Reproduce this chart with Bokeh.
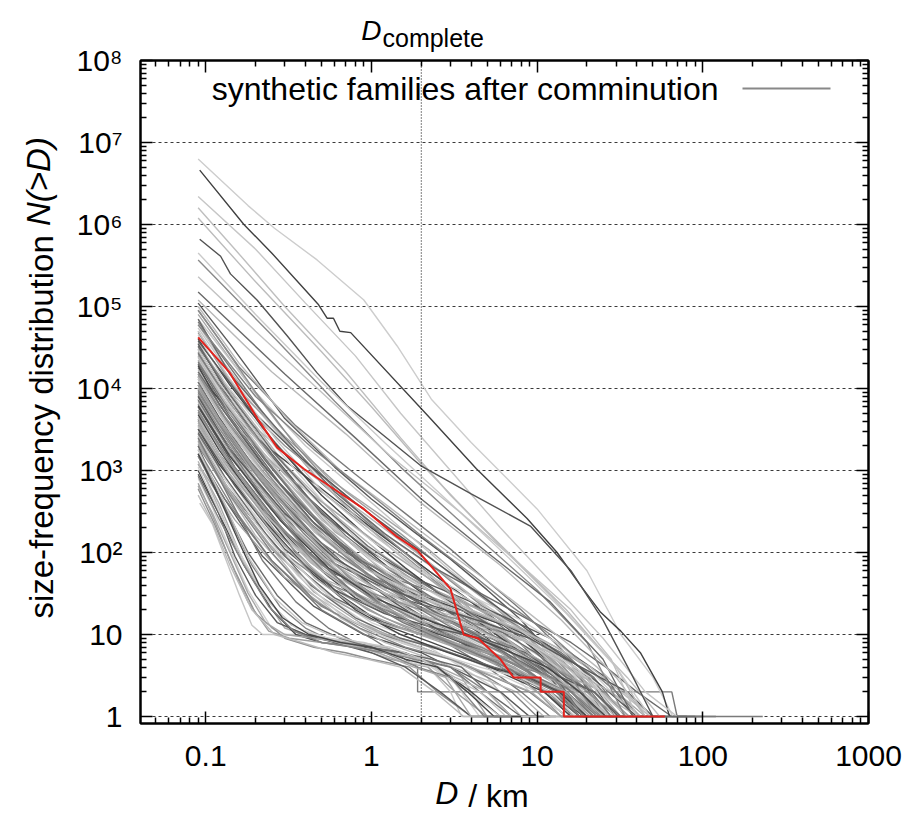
from bokeh.plotting import figure
from bokeh.models import Range1d, LogAxis, FixedTicker, Span, Label, Arrow
from bokeh.embed import file_html
from bokeh.resources import INLINE

FONT = "Liberation Sans"

# ---------------- data ----------------
D_complete = 2.0

x_ticks = [0.1, 1, 10, 100, 1000]
x_tick_labels = ["0.1", "1", "10", "100", "1000"]
y_ticks = [1, 10, 100, 1e3, 1e4, 1e5, 1e6, 1e7, 1e8]
y_tick_labels = ["1", "10", "10²", "10³", "10⁴", "10⁵", "10⁶", "10⁷", "10⁸"]

# highlighted family (red)
red_D = [0.09, 0.14, 0.205, 0.27, 0.39, 0.57, 0.90, 1.43, 1.89, 3.0, 3.6, 4.4, 6.0, 7.2, 10.5, 10.5, 14.5, 14.5, 59]
red_N = [42000, 15500, 4300, 1900, 1050, 630, 340, 155, 107, 36, 10, 9, 5, 3, 3, 2, 2, 1, 1]

# upper outlier families
outlier_D = [
    [0.09, 0.18, 0.26, 0.47, 0.9, 1.43, 2.3, 4, 10, 20, 32, 50, 66],
    [0.092, 0.17, 0.25, 0.48, 0.54, 0.59, 0.645, 0.75, 2.27, 4.3, 8.7, 13.2, 18.2, 24, 32, 42, 57, 63],
    [0.09, 0.2, 0.4, 0.8, 1.5, 3, 6, 12, 25, 45, 70],
    [0.09, 0.15, 0.3, 0.7, 1.5, 3, 6, 12, 22, 35, 55],
    [0.09, 0.2, 0.5, 1, 2, 4, 8, 15, 30, 45],
    [0.092, 0.123, 0.141, 0.204, 0.31, 0.47, 0.71, 1.98, 4, 9.1, 16, 25, 38, 50],
    [0.09, 0.2, 0.5, 1.2, 3, 7, 15, 30, 48],
    [0.09, 0.25, 0.6, 1.5, 4, 10, 20, 34],
    [0.09, 0.2, 0.5, 1.3, 3.5, 8, 16, 28, 40],
    [0.09, 0.3, 0.8, 2, 5, 12, 25, 38, 90],
    [0.09, 0.25, 0.7, 2, 6, 14, 30, 45],
]
outlier_N = [
    [6.3e6, 1.7e6, 9e5, 3.7e5, 1.2e5, 3.3e4, 7400, 2200, 340, 60, 10, 3, 1],
    [4.6e6, 1e6, 4.5e5, 1.05e5, 7.2e4, 7.2e4, 5e4, 4.8e4, 4300, 1050, 260, 100, 40, 19, 11, 6, 2, 1],
    [2.2e6, 5e5, 1.1e5, 2.5e4, 5000, 1000, 200, 45, 9, 2, 1],
    [1.6e6, 5e5, 1e5, 1.6e4, 2500, 500, 120, 30, 8, 3, 1],
    [1.2e6, 2e5, 2.8e4, 6000, 1200, 280, 70, 20, 4, 1],
    [6.6e5, 4.1e5, 2.5e5, 1.2e5, 4.4e4, 1.55e4, 6200, 1150, 520, 210, 60, 15, 3, 1],
    [4.5e5, 8e4, 1.2e4, 2200, 400, 80, 18, 4, 1],
    [3.7e5, 4.5e4, 7000, 1100, 180, 35, 8, 1],
    [2.3e5, 5e4, 9000, 1500, 300, 70, 20, 5, 1],
    [1.5e5, 1.5e4, 2500, 450, 100, 25, 5, 1, 1],
    [1.2e5, 1.6e4, 2800, 400, 70, 15, 3, 1],
]
outlier_colors = ["#cdcdcd", "#404040", "#c6c6c6", "#bfbfbf", "#bcbcbc", "#525252",
                  "#cacaca", "#8a8a8a", "#c2c2c2", "#6a6a6a", "#b8b8b8"]

# main bundle of families
bulk_D = [
    [0.09, 0.14, 0.3, 0.6, 1.0, 1.8, 3.0, 5.0, 8.0, 12, 18, 26, 100],
    [0.09, 0.15, 0.28, 0.55, 1.1, 2.2, 3.5, 6, 9, 14, 20, 30],
    [0.09, 0.12, 0.25, 0.5, 1.0, 2.0, 4.0, 7, 11, 16, 22, 28],
    [0.09, 0.16, 0.33, 0.7, 1.3, 2.5, 4, 7, 10, 15, 24, 35],
    [0.09, 0.13, 0.22, 0.45, 0.9, 1.6, 2.8, 4.5, 7, 11, 17, 21],
    [0.09, 0.14, 0.3, 0.65, 1.2, 2.2, 3.5, 5.5, 9, 13, 20, 28],
    [0.09, 0.12, 0.2, 0.4, 0.8, 1.5, 3, 5, 8, 13, 19, 26],
    [0.09, 0.15, 0.3, 0.6, 1.1, 2, 3.5, 6, 10, 16, 25, 38],
    [0.09, 0.13, 0.25, 0.5, 1, 2, 4, 6, 9, 14, 18],
    [0.09, 0.14, 0.28, 0.55, 1.0, 1.9, 3.2, 5, 8, 12, 18, 30],
    [0.09, 0.12, 0.22, 0.45, 0.9, 1.7, 3, 5.5, 9, 15, 22, 27],
    [0.09, 0.15, 0.32, 0.7, 1.4, 2.8, 5, 8, 12, 18, 26, 34],
    [0.09, 0.13, 0.24, 0.5, 1, 2, 3.5, 6, 10, 15, 19],
    [0.09, 0.14, 0.3, 0.6, 1.2, 2.4, 4, 7, 11, 17, 25, 40],
    [0.09, 0.12, 0.2, 0.35, 0.7, 1.4, 2.8, 5, 8, 12, 16],
    [0.09, 0.15, 0.3, 0.6, 1.1, 2, 3.5, 6, 9, 14, 20, 24],
    [0.09, 0.13, 0.25, 0.5, 1, 1.8, 3, 5, 8, 12, 18, 23],
    [0.09, 0.14, 0.28, 0.55, 1.1, 2.2, 4, 6.5, 10, 15, 19],
    [0.09, 0.12, 0.22, 0.42, 0.8, 1.6, 3, 5, 8, 13, 20, 32],
    [0.09, 0.15, 0.3, 0.6, 1.2, 2.5, 4.5, 7, 11, 16, 21],
    [0.09, 0.13, 0.26, 0.5, 1, 2, 3.5, 6, 9, 12],
    [0.09, 0.14, 0.3, 0.6, 1.2, 2.4, 4, 7, 12, 18, 25, 31],
    [0.09, 0.12, 0.2, 0.4, 0.8, 1.5, 3, 5, 8, 11],
    [0.09, 0.14, 0.25, 0.5, 1, 2, 4, 7, 10, 13],
    [0.09, 0.13, 0.22, 0.45, 0.9, 2, 4, 6, 9, 12],
    [0.09, 0.15, 0.3, 0.6, 1.2, 2.5, 5, 8, 12, 20, 26],
    [0.09, 0.16, 0.35, 0.8, 1.6, 3, 5, 8, 12, 18, 25, 35],
    [0.09, 0.2, 0.4, 0.8, 1.5, 3, 6, 10, 15, 22, 30, 40],
    [0.09, 0.15, 0.3, 0.7, 1.5, 3, 6, 10, 16, 25, 33],
    [0.09, 0.18, 0.4, 0.9, 2, 4, 7, 12, 18, 28, 45],
    [0.09, 0.2, 0.5, 1, 2, 4, 8, 13, 20, 30, 38],
    [0.09, 0.14, 0.3, 0.7, 1.5, 3, 5.5, 9, 14, 22, 28],
    [0.09, 0.13, 0.25, 0.5, 1, 2, 4, 8, 14, 20, 30, 36],
    [0.09, 0.12, 0.25, 0.55, 1.1, 2.3, 4.5, 9, 15, 24, 36, 44],
    [0.09, 0.14, 0.3, 0.6, 1.2, 2.5, 5, 9, 13, 20, 28, 33],
    [0.09, 0.13, 0.26, 0.5, 1, 2, 4, 7, 12, 18, 26, 31],
    [0.09, 0.15, 0.3, 0.6, 1.3, 2.6, 5, 10, 16, 24, 29],
    [0.09, 0.12, 0.22, 0.45, 0.9, 1.8, 3.5, 7, 12, 20, 32, 39],
    [0.09, 0.16, 0.33, 0.7, 1.5, 3, 6, 11, 18, 28, 34],
    [0.09, 0.13, 0.25, 0.5, 1.0, 2.0, 4.0, 7, 11, 17, 26, 45],
    [0.09, 0.12, 0.2, 0.35, 0.6, 1, 1.8, 3, 5, 8, 12, 16, 25],
    [0.09, 0.13, 0.24, 0.45, 0.8, 1.4, 2.5, 4.5, 7, 11, 17, 24, 33],
    [0.09, 0.14, 0.26, 0.5, 0.9, 1.6, 3, 5, 8, 13, 19, 30],
    [0.09, 0.12, 0.22, 0.4, 0.75, 1.3, 2.3, 4, 6.5, 10, 15, 22, 45],
    [0.09, 0.15, 0.3, 0.55, 1, 1.8, 3.2, 5.5, 9, 14, 20, 28],
    [0.09, 0.13, 0.23, 0.42, 0.8, 1.5, 2.7, 4.5, 7.5, 12, 18, 27],
    [0.09, 0.12, 0.2, 0.38, 0.7, 1.3, 2.5, 4.5, 8, 13, 20, 25],
    [0.09, 0.14, 0.27, 0.5, 0.95, 1.8, 3.5, 6, 10, 16, 24, 36],
    [0.09, 0.12, 0.21, 0.4, 0.75, 1.4, 2.6, 4.5, 7.5, 12, 18, 22],
    [0.09, 0.13, 0.25, 0.48, 0.9, 1.7, 3.2, 6, 10, 15, 22, 32],
    [0.09, 0.12, 0.2, 0.36, 0.65, 1.2, 2.2, 4, 7, 11, 17, 24],
    [0.09, 0.14, 0.28, 0.55, 1, 2, 3.8, 6.5, 10, 16, 23, 29],
    [0.09, 0.12, 0.21, 0.4, 0.75, 1.4, 2.6, 4.8, 8, 13, 20, 30],
    [0.09, 0.13, 0.24, 0.46, 0.9, 1.7, 3.2, 5.5, 9, 14, 21, 26],
    [0.09, 0.12, 0.2, 0.35, 0.65, 1.2, 2.3, 4.2, 7, 11, 16, 24],
    [0.09, 0.14, 0.26, 0.5, 0.95, 1.8, 3.4, 6, 9.5, 15, 22, 28],
    [0.09, 0.12, 0.19, 0.33, 0.6, 1.1, 2, 3.8, 6.5, 10, 15, 19],
    [0.09, 0.13, 0.23, 0.43, 0.8, 1.5, 3, 5.5, 9, 14, 20, 26],
    [0.09, 0.12, 0.2, 0.36, 0.65, 1.2, 2.3, 4.5, 7.5, 11, 14],
    [0.09, 0.14, 0.25, 0.45, 0.85, 1.6, 3, 5.5, 9, 14, 17],
    [0.09, 0.13, 0.25, 0.5, 1, 2, 4, 7, 12, 18, 26, 38, 60],
    [0.09, 0.14, 0.3, 0.6, 1.2, 2.4, 4.5, 8, 13, 20, 30, 45, 52],
    [0.09, 0.12, 0.24, 0.5, 1, 2, 4, 8, 14, 22, 34, 50],
    [0.09, 0.15, 0.3, 0.6, 1.2, 2.5, 5, 9, 15, 24, 35, 55],
    [0.09, 0.13, 0.25, 0.5, 1, 2, 4, 8, 13, 20, 30, 37],
    [0.09, 0.14, 0.28, 0.55, 1.1, 2.2, 4.5, 9, 15, 24, 40, 48],
    [0.09, 0.12, 0.22, 0.45, 0.9, 1.8, 3.5, 7, 12, 20, 30, 50],
    [0.09, 0.15, 0.32, 0.65, 1.3, 2.6, 5, 9, 15, 22, 32, 40],
    [0.09, 0.13, 0.26, 0.52, 1.05, 2.1, 4.2, 8, 13, 20, 28, 42, 48],
    [0.09, 0.14, 0.3, 0.6, 1.2, 2.4, 4.8, 9, 16, 26, 40, 65, 120],
    [0.09, 0.16, 0.32, 0.65, 1.3, 2.6, 5, 9, 15, 23, 33, 50, 60],
    [0.09, 0.2, 0.45, 1, 2, 4, 7, 12, 20, 30, 42, 50],
    [0.09, 0.18, 0.38, 0.8, 1.7, 3.5, 6.5, 11, 18, 27, 40, 46],
    [0.09, 0.15, 0.3, 0.65, 1.4, 3, 6, 10, 16, 25, 36, 42],
    [0.09, 0.13, 0.25, 0.5, 1, 1.9, 1.9, 30, 65, 70, 230],
]
bulk_N = [
    [1.1e5, 3.5e4, 4300, 1100, 450, 180, 83, 35, 15, 6, 3, 1, 1],
    [8e4, 1.9e4, 3500, 800, 300, 110, 50, 20, 9, 4, 2, 1],
    [6.5e4, 2.8e4, 3600, 700, 210, 70, 25, 10, 4, 2, 1, 1],
    [5.5e4, 1e4, 1800, 420, 150, 60, 30, 14, 7, 3, 1, 1],
    [4.8e4, 1.6e4, 3300, 650, 220, 90, 35, 14, 6, 2, 1, 1],
    [3.6e4, 9000, 1200, 250, 90, 40, 22, 11, 5, 3, 1, 1],
    [3e4, 1.2e4, 2500, 500, 140, 50, 18, 9, 4, 2, 1, 1],
    [2.6e4, 5000, 900, 220, 90, 40, 20, 10, 5, 2, 1, 1],
    [2.2e4, 6500, 1100, 220, 70, 25, 10, 5, 2, 1, 1],
    [1.8e4, 4500, 700, 170, 70, 32, 17, 10, 5, 3, 1, 1],
    [1.5e4, 5500, 1000, 180, 60, 25, 13, 7, 4, 2, 1, 1],
    [1.3e4, 2500, 400, 110, 45, 22, 12, 6, 3, 2, 1, 1],
    [1.1e4, 3200, 600, 120, 40, 17, 9, 5, 2, 1, 1],
    [9500, 2200, 320, 80, 35, 18, 11, 6, 3, 2, 1, 1],
    [8000, 3000, 700, 170, 45, 18, 8, 4, 2, 1, 1],
    [7000, 1500, 260, 70, 30, 15, 9, 5, 3, 2, 1, 1],
    [6000, 1800, 330, 80, 30, 16, 10, 6, 3, 2, 1, 1],
    [5000, 1200, 200, 50, 20, 11, 6, 4, 2, 1, 1],
    [4200, 1600, 350, 80, 28, 14, 9, 6, 4, 2, 1, 1],
    [3600, 700, 120, 35, 16, 9, 6, 4, 2, 1, 1],
    [3000, 800, 140, 35, 14, 8, 4, 2, 1, 1],
    [2600, 550, 90, 28, 14, 9, 7, 5, 3, 2, 1, 1],
    [2200, 800, 160, 35, 14, 8, 5, 3, 1, 1],
    [1800, 400, 80, 22, 11, 7, 4, 2, 1, 1],
    [1500, 450, 90, 22, 10, 6, 3, 2, 1, 1],
    [1200, 250, 50, 18, 10, 7, 4, 3, 2, 1, 1],
    [9e4, 1.8e4, 3500, 900, 300, 110, 45, 20, 9, 4, 2, 1],
    [7e4, 9000, 2000, 600, 200, 60, 20, 8, 4, 2, 1, 1],
    [3.2e4, 8000, 2000, 500, 150, 45, 15, 6, 2, 1, 1],
    [2e4, 4000, 1000, 300, 90, 30, 12, 5, 2, 1, 1],
    [1.4e4, 2500, 600, 200, 70, 25, 9, 4, 2, 1, 1],
    [5e4, 1.2e4, 2600, 550, 170, 55, 22, 9, 3, 1, 1],
    [1.6e4, 4000, 600, 120, 50, 30, 20, 11, 5, 2, 1, 1],
    [7500, 2500, 350, 80, 40, 25, 17, 10, 5, 2, 1, 1],
    [4500, 900, 150, 50, 28, 19, 13, 8, 4, 2, 1, 1],
    [2800, 700, 120, 45, 25, 17, 12, 8, 4, 2, 1, 1],
    [6000, 1100, 180, 55, 30, 20, 14, 7, 3, 1, 1],
    [2.5e4, 9000, 1500, 280, 80, 40, 25, 14, 7, 3, 1, 1],
    [1e4, 1800, 350, 100, 45, 28, 17, 8, 3, 1, 1],
    [4000, 1000, 200, 60, 30, 20, 14, 9, 5, 3, 1, 1],
    [9e4, 4e4, 9000, 2000, 600, 220, 80, 33, 14, 6, 3, 1, 1],
    [6e4, 2e4, 4000, 900, 280, 100, 40, 17, 8, 4, 2, 1, 1],
    [4e4, 1.1e4, 2200, 500, 170, 65, 25, 12, 6, 3, 1, 1],
    [2.8e4, 1e4, 2000, 450, 130, 50, 22, 11, 6, 3, 2, 1, 1],
    [2.4e4, 5000, 900, 230, 80, 34, 16, 9, 5, 2, 1, 1],
    [2e4, 6000, 1300, 300, 90, 35, 16, 9, 5, 3, 1, 1],
    [1.7e4, 6500, 1500, 320, 90, 32, 14, 7, 4, 2, 1, 1],
    [1.4e4, 3500, 650, 160, 55, 24, 12, 7, 4, 2, 1, 1],
    [1.2e4, 4500, 900, 200, 60, 24, 11, 6, 3, 2, 1, 1],
    [1e4, 3000, 550, 130, 45, 20, 11, 6, 3, 2, 1, 1],
    [9000, 3500, 800, 180, 55, 22, 11, 6, 4, 2, 1, 1],
    [7500, 1800, 300, 75, 30, 15, 9, 5, 3, 2, 1, 1],
    [6500, 2500, 500, 110, 35, 16, 9, 6, 4, 2, 1, 1],
    [5500, 1600, 300, 70, 25, 13, 8, 5, 3, 2, 1, 1],
    [4800, 1800, 420, 100, 30, 13, 8, 5, 3, 2, 1, 1],
    [4000, 1000, 190, 50, 20, 11, 7, 4, 3, 2, 1, 1],
    [3400, 1300, 320, 80, 25, 11, 7, 4, 3, 2, 1, 1],
    [2900, 850, 170, 40, 16, 9, 6, 4, 3, 2, 1, 1],
    [2400, 900, 200, 45, 16, 8, 5, 3, 2, 1, 1],
    [2000, 500, 100, 26, 12, 7, 5, 3, 2, 1, 1],
    [3.5e4, 1e4, 1600, 300, 100, 45, 25, 15, 9, 5, 3, 1, 1],
    [2.2e4, 5000, 800, 180, 70, 35, 20, 12, 7, 4, 2, 1, 1],
    [1.2e4, 4200, 650, 130, 50, 28, 18, 11, 6, 3, 1, 1],
    [8500, 1700, 280, 80, 38, 24, 16, 10, 5, 2, 1, 1],
    [5500, 1500, 250, 70, 32, 20, 14, 9, 5, 2, 1, 1],
    [3500, 800, 140, 45, 24, 16, 12, 8, 4, 2, 1, 1],
    [1.9e4, 6500, 1200, 230, 70, 32, 20, 12, 7, 3, 1, 1],
    [1.1e4, 2000, 350, 100, 45, 26, 16, 10, 5, 2, 1, 1],
    [4.5e4, 1.2e4, 2000, 400, 130, 55, 28, 15, 8, 4, 2, 1, 1],
    [7e4, 1.5e4, 2500, 550, 170, 65, 30, 15, 8, 4, 2, 1, 1],
    [1e5, 2e4, 4000, 1000, 350, 120, 45, 18, 8, 4, 2, 1, 1],
    [6e4, 8000, 1800, 500, 160, 55, 22, 10, 4, 2, 1, 1],
    [3.8e4, 6000, 1400, 400, 130, 45, 18, 8, 4, 2, 1, 1],
    [1.5e4, 3500, 900, 280, 90, 32, 14, 7, 3, 2, 1, 1],
    [1600, 450, 80, 20, 9, 4, 2, 2, 2, 1, 1],
]

# densest core of the bundle
core_D = [
    [0.09, 0.12, 0.21, 0.38, 0.7, 1.3, 2.4, 4.2, 7, 11, 16, 23, 30],
    [0.09, 0.13, 0.23, 0.44, 0.85, 1.6, 3, 5.2, 8.5, 13, 19, 28],
    [0.09, 0.12, 0.2, 0.37, 0.7, 1.3, 2.4, 4.3, 7.3, 11.5, 17, 25],
    [0.09, 0.14, 0.27, 0.52, 1, 1.9, 3.6, 6.3, 10, 15, 22, 33],
    [0.09, 0.12, 0.22, 0.42, 0.8, 1.5, 2.9, 5.2, 8.7, 13.5, 20],
    [0.09, 0.13, 0.24, 0.45, 0.85, 1.6, 3.1, 5.6, 9.2, 14, 19],
    [0.09, 0.12, 0.21, 0.4, 0.78, 1.5, 3, 5.5, 9, 14, 21, 30, 40],
    [0.09, 0.14, 0.29, 0.58, 1.15, 2.3, 4.4, 7.8, 13, 20, 29, 36],
    [0.09, 0.13, 0.26, 0.52, 1.05, 2.1, 4.1, 7.5, 12.5, 19, 27],
    [0.09, 0.12, 0.22, 0.43, 0.85, 1.7, 3.4, 6.5, 11, 17, 25, 34],
    [0.09, 0.15, 0.3, 0.6, 1.2, 2.4, 4.6, 8.5, 14, 22, 31],
    [0.09, 0.13, 0.25, 0.5, 1, 2, 3.8, 7, 11.5, 18, 26],
    [0.09, 0.12, 0.2, 0.35, 0.62, 1.1, 2, 3.6, 6.2, 10, 15, 22],
    [0.09, 0.14, 0.26, 0.5, 0.95, 1.8, 3.4, 6, 9.8, 15, 22, 32, 55],
    [0.09, 0.13, 0.25, 0.48, 0.92, 1.75, 3.3, 6, 10, 16, 23, 35],
    [0.09, 0.12, 0.21, 0.39, 0.73, 1.35, 2.5, 4.6, 8, 12.5, 19, 28],
    [0.09, 0.14, 0.28, 0.55, 1.05, 2, 3.8, 7, 11.5, 18, 26, 38],
    [0.09, 0.13, 0.24, 0.46, 0.88, 1.7, 3.2, 5.8, 9.5, 15, 21, 27],
    [0.09, 0.12, 0.2, 0.36, 0.66, 1.25, 2.4, 4.5, 7.8, 12, 17],
    [0.09, 0.14, 0.27, 0.52, 1, 1.9, 3.7, 6.8, 11, 17, 24, 35, 48],
    [0.09, 0.13, 0.25, 0.5, 1, 2, 4, 7.5, 13, 21, 32, 48, 70],
    [0.09, 0.12, 0.22, 0.44, 0.9, 1.8, 3.6, 7, 12, 19, 28, 42],
    [0.09, 0.14, 0.3, 0.6, 1.2, 2.4, 4.8, 9, 15, 24, 35, 50, 80],
    [0.09, 0.12, 0.2, 0.36, 0.64, 1.15, 2.1, 3.8, 6.5, 10, 14, 19],
    [0.09, 0.13, 0.23, 0.43, 0.82, 1.55, 2.9, 5.2, 8.5, 13, 18, 26],
]
core_N = [
    [2.7e4, 1.1e4, 2400, 550, 160, 60, 27, 13, 7, 4, 2, 1, 1],
    [1.6e4, 5200, 1100, 240, 75, 30, 15, 8, 5, 3, 1, 1],
    [8500, 3300, 750, 160, 45, 19, 10, 6, 4, 2, 1, 1],
    [5200, 1300, 230, 58, 24, 13, 8, 5, 3, 2, 1, 1],
    [3200, 1200, 260, 60, 20, 10, 6, 4, 3, 2, 1],
    [2100, 650, 130, 33, 14, 8, 5, 3, 2, 1, 1],
    [3e4, 1.2e4, 2600, 580, 160, 55, 24, 13, 8, 5, 3, 1, 1],
    [1.3e4, 3000, 480, 120, 50, 26, 15, 9, 5, 3, 1, 1],
    [6800, 2000, 330, 85, 36, 20, 12, 7, 4, 2, 1],
    [4300, 1600, 320, 75, 28, 16, 11, 7, 4, 2, 1, 1],
    [3200, 650, 110, 35, 18, 12, 9, 6, 3, 2, 1],
    [2300, 650, 110, 32, 15, 10, 7, 5, 3, 2, 1],
    [2.1e4, 8500, 2000, 470, 140, 50, 20, 10, 6, 3, 2, 1],
    [3.3e4, 8500, 1600, 380, 120, 50, 22, 11, 6, 3, 2, 1, 1],
    [1.5e4, 4600, 800, 170, 55, 24, 13, 8, 5, 3, 1, 1],
    [9500, 3700, 800, 170, 50, 21, 11, 7, 4, 3, 1, 1],
    [6200, 1500, 250, 65, 28, 16, 10, 6, 4, 2, 1, 1],
    [3800, 1100, 200, 48, 19, 11, 7, 5, 3, 2, 1, 1],
    [2600, 1000, 230, 52, 17, 9, 6, 4, 3, 2, 1],
    [5e4, 1.3e4, 2300, 520, 170, 65, 28, 14, 7, 4, 2, 1, 1],
    [2.4e4, 7000, 1200, 250, 85, 38, 20, 12, 7, 4, 2, 1, 1],
    [1.4e4, 5200, 950, 200, 65, 30, 17, 10, 6, 3, 2, 1],
    [8e3, 1800, 300, 85, 38, 22, 14, 9, 5, 3, 2, 1, 1],
    [1.1e4, 4300, 1000, 230, 65, 24, 11, 6, 4, 2, 1, 1],
    [7200, 2200, 430, 95, 30, 14, 8, 5, 3, 2, 1, 1],
]

# low-population families with flat steps
low_D = [
    [0.092, 0.11, 0.13, 0.16, 0.19, 0.22, 0.35, 0.55, 0.9, 1.5, 2.2, 3, 3.5, 5],
    [0.09, 0.11, 0.14, 0.18, 0.25, 0.3, 0.5, 0.8, 1.3, 2, 3, 4.5, 6],
    [0.09, 0.12, 0.16, 0.22, 0.3, 0.45, 0.7, 1.2, 2, 3.5, 5, 7],
    [0.09, 0.12, 0.17, 0.25, 0.35, 0.5, 0.9, 1.6, 2.5, 4, 6, 9],
    [0.09, 0.13, 0.19, 0.28, 0.4, 0.6, 1.0, 1.8, 3, 5, 7, 10],
    [0.09, 0.11, 0.15, 0.2, 0.3, 0.45, 0.7, 1, 1.7, 2.5, 4, 5],
    [0.09, 0.12, 0.18, 0.27, 0.4, 0.65, 1.0, 1.5, 2.3, 3.5, 5, 8, 11],
    [0.09, 0.14, 0.22, 0.35, 0.55, 0.8, 1.2, 2, 3, 4.5, 7, 9],
    [0.09, 0.11, 0.14, 0.18, 0.24, 0.32, 0.5, 0.8, 1.3, 2.2, 3.2, 5, 7],
    [0.09, 0.12, 0.15, 0.2, 0.27, 0.4, 0.6, 1, 1.6, 2.6, 4, 6],
    [0.09, 0.12, 0.16, 0.23, 0.33, 0.5, 0.8, 1.3, 2, 3.2, 5, 7, 10],
    [0.09, 0.11, 0.14, 0.19, 0.26, 0.38, 0.6, 0.95, 1.5, 2.4, 3.6, 4.5],
    [0.09, 0.13, 0.18, 0.26, 0.38, 0.55, 0.85, 1.3, 2, 3, 4.5, 6.5, 9],
    [0.09, 0.12, 0.17, 0.24, 0.35, 0.55, 0.85, 1.4, 2.3, 3.8, 6, 8],
    [0.09, 0.11, 0.14, 0.18, 0.23, 0.3, 0.45, 0.7, 1.1, 1.8, 2.8, 4, 5.5],
    [0.09, 0.12, 0.16, 0.21, 0.29, 0.42, 0.65, 1, 1.6, 2.5, 3.8, 5.5, 8],
    [0.09, 0.12, 0.17, 0.24, 0.34, 0.5, 0.78, 1.2, 1.9, 3, 4.8, 7],
]
low_N = [
    [400, 220, 90, 30, 13, 10, 10, 9, 8, 6, 4, 2, 1, 1],
    [800, 350, 110, 35, 12, 10, 9, 8, 6, 5, 3, 1, 1],
    [1200, 400, 100, 30, 12, 9, 8, 7, 5, 3, 1, 1],
    [1000, 300, 70, 20, 10, 8, 7, 6, 4, 2, 1, 1],
    [1500, 350, 70, 22, 12, 8, 7, 5, 4, 2, 1, 1],
    [600, 250, 60, 18, 9, 7, 6, 5, 4, 2, 1, 1],
    [2000, 500, 100, 30, 14, 9, 7, 6, 5, 4, 2, 1, 1],
    [2500, 450, 80, 25, 12, 8, 6, 5, 4, 2, 1, 1],
    [700, 280, 80, 25, 11, 9, 8, 7, 5, 4, 2, 1, 1],
    [900, 300, 90, 30, 14, 10, 8, 6, 4, 2, 1, 1],
    [1300, 350, 90, 28, 13, 9, 7, 6, 5, 3, 2, 1, 1],
    [500, 230, 70, 20, 10, 8, 6, 5, 4, 2, 1, 1],
    [1800, 400, 90, 28, 14, 10, 8, 7, 5, 3, 2, 1, 1],
    [1100, 320, 80, 25, 12, 9, 7, 5, 4, 2, 1, 1],
    [650, 300, 100, 32, 14, 10, 9, 8, 6, 4, 3, 1, 1],
    [1600, 480, 130, 40, 16, 10, 8, 7, 5, 4, 2, 1, 1],
    [850, 260, 70, 22, 11, 8, 7, 6, 4, 3, 1, 1],
]

legend_text = "synthetic families after comminution"

# ---------------- figure ----------------
p = figure(width=915, height=818, x_axis_type="log", y_axis_type="log",
           x_range=Range1d(0.0404, 1000), y_range=Range1d(0.822, 1e8),
           output_backend="svg", toolbar_location=None,
           min_border_left=140, min_border_right=47,
           min_border_top=60, min_border_bottom=95)
p.title.visible = False
p.background_fill_color = "white"
p.border_fill_color = "white"
p.outline_line_color = "black"
p.outline_line_width = 2

p.xgrid.visible = False
p.ygrid.ticker = FixedTicker(ticks=y_ticks)
p.ygrid.grid_line_color = "#3a3a3a"
p.ygrid.grid_line_dash = "3 3"
p.ygrid.grid_line_width = 1

x_minor = [m * 10.0 ** k for k in range(-2, 3) for m in range(2, 10)]
y_minor = [m * 10.0 ** k for k in range(0, 8) for m in range(2, 10)]


def style_axis(ax, ticks, minor, labels, size="30px"):
    ax.ticker = FixedTicker(ticks=ticks, minor_ticks=minor)
    ax.major_tick_in = 12
    ax.major_tick_out = 0
    ax.minor_tick_in = 6
    ax.minor_tick_out = 0
    ax.major_tick_line_width = 1.5
    ax.minor_tick_line_width = 1.5
    ax.axis_line_width = 2
    ax.axis_line_color = "black"
    ax.major_tick_line_color = "black"
    ax.minor_tick_line_color = "black"
    ax.major_label_text_font = FONT
    ax.major_label_text_font_size = size
    ax.major_label_text_color = "black"
    ax.major_label_overrides = {t: l for t, l in zip(ticks, labels)}


def text_axis(pos, text, size, style, standoff, orientation="horizontal"):
    ax = LogAxis()
    ax.ticker = FixedTicker(ticks=[pos], minor_ticks=[])
    ax.major_label_overrides = {pos: text}
    ax.axis_line_color = None
    ax.major_tick_line_color = None
    ax.minor_tick_line_color = None
    ax.major_tick_in = 0
    ax.major_tick_out = 0
    ax.minor_tick_in = 0
    ax.minor_tick_out = 0
    ax.major_label_text_font = FONT
    ax.major_label_text_font_size = size
    ax.major_label_text_font_style = style
    ax.major_label_text_color = "black"
    ax.major_label_standoff = standoff
    ax.major_label_orientation = orientation
    return ax


style_axis(p.xaxis[0], x_ticks, x_minor, x_tick_labels)
p.xaxis[0].major_label_standoff = 22
style_axis(p.yaxis[0], y_ticks, y_minor, y_tick_labels)
p.yaxis[0].major_label_standoff = 18

top_ax = LogAxis()
style_axis(top_ax, x_ticks, x_minor, ["" for _ in x_ticks], size="0px")
top_ax.major_label_standoff = 0
p.add_layout(top_ax, "above")
right_ax = LogAxis()
style_axis(right_ax, y_ticks, y_minor, ["" for _ in y_ticks], size="0px")
right_ax.major_label_standoff = 0
p.add_layout(right_ax, "right")

# title pieces above the frame:  D_complete
p.add_layout(text_axis(2.36, "complete", "25px", "normal", 9), "above")
p.add_layout(text_axis(1.0, "D", "28px", "italic", -25), "above")

# x-axis title:  D / km
p.add_layout(text_axis(2.85, "D", "32px", "italic", 6), "below")
p.add_layout(text_axis(5.84, "/ km", "32px", "normal", -36), "below")

# y-axis title:  size-frequency distribution N(>D)
p.add_layout(text_axis(3400, "size-frequency distribution", "33px", "normal", 13, "parallel"), "left")
p.add_layout(text_axis(3.34e6, "N(>D)", "33px", "italic", -37, "parallel"), "left")

# gray family curves
grays = ["#5a5a5a", "#a8a8a8", "#7a7a7a", "#c6c6c6", "#8f8f8f", "#b5b5b5",
         "#474747", "#9e9e9e", "#d0d0d0", "#6b6b6b", "#bbbbbb", "#858585"]
xs, ys, cs = [], [], []
for i, (dd, nn) in enumerate(zip(bulk_D, bulk_N)):
    xs.append(dd); ys.append(nn); cs.append(grays[i % len(grays)])
for i, (dd, nn) in enumerate(zip(core_D, core_N)):
    xs.append(dd); ys.append(nn); cs.append(grays[(i * 7 + 2) % len(grays)])
for i, (dd, nn) in enumerate(zip(low_D, low_N)):
    xs.append(dd); ys.append(nn); cs.append(grays[(i * 5 + 3) % len(grays)])
for dd, nn, c in zip(outlier_D, outlier_N, outlier_colors):
    xs.append(dd); ys.append(nn); cs.append(c)
p.multi_line(xs=xs, ys=ys, line_color=cs, line_width=1.4)

p.line(red_D, red_N, line_color="#e3231e", line_width=2)

p.add_layout(Span(location=D_complete, dimension="height", line_color="black",
                  line_dash="1 2", line_width=1))

# legend
p.add_layout(Label(x=578, y=635, x_units="screen", y_units="screen", text=legend_text,
                   text_font=FONT, text_font_size="32px", text_color="black",
                   text_align="right", text_baseline="alphabetic"))
p.add_layout(Arrow(x_start=602, y_start=635, x_end=690, y_end=635,
                   start_units="screen", end_units="screen", start=None, end=None,
                   line_color="#888888", line_width=2))

open("out.html", "w").write(file_html(p, INLINE))
